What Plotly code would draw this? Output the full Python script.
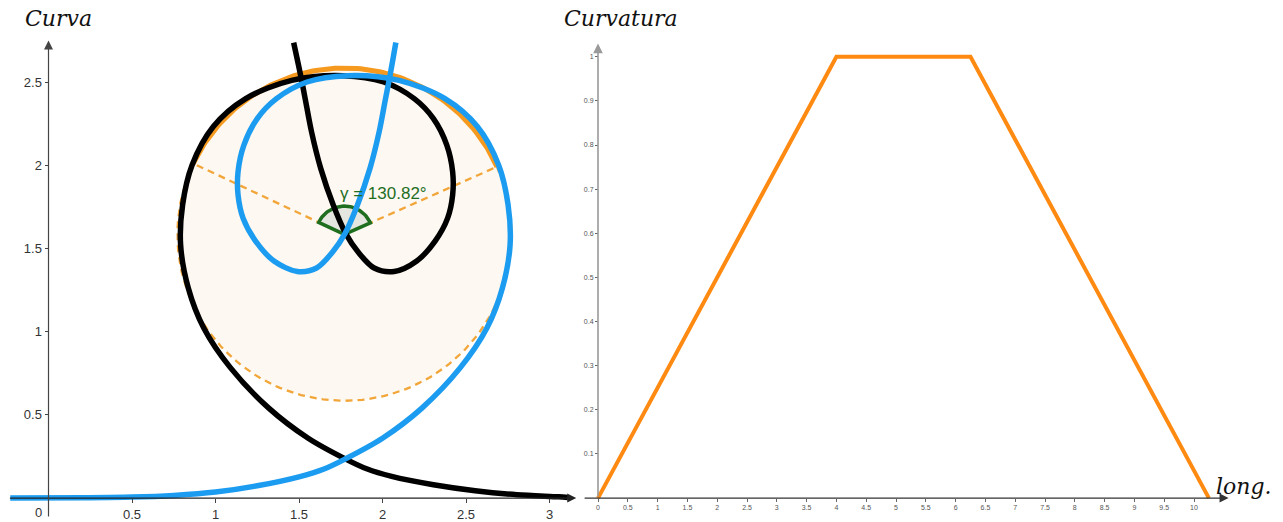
import numpy as np
import plotly.graph_objects as go

# ---------------- data ----------------
blue_x = [-0.229, 0.200, 0.500, 0.750, 1.000, 1.250, 1.500, 1.650, 1.778, 2.000, 2.236, 2.466,
          2.626, 2.718, 2.764, 2.752, 2.695, 2.569, 2.374, 2.099, 1.791, 1.548, 1.365, 1.250,
          1.170, 1.135, 1.135, 1.165, 1.240, 1.350, 1.490, 1.605, 1.700, 1.775, 1.850, 1.925,
          1.980, 2.018, 2.045, 2.080]
blue_y = [0.000, 0.002, 0.006, 0.016, 0.036, 0.074, 0.128, 0.175, 0.236, 0.360, 0.541, 0.784,
          1.024, 1.263, 1.523, 1.762, 2.002, 2.232, 2.401, 2.511, 2.539, 2.501, 2.401, 2.281,
          2.122, 1.962, 1.822, 1.683, 1.545, 1.425, 1.362, 1.383, 1.478, 1.590, 1.762, 1.982,
          2.202, 2.401, 2.540, 2.738]

black_x = [3.110, 3.055, 2.805, 2.555, 2.305, 2.055, 1.905, 1.777, 1.555, 1.319, 1.089, 0.929,
           0.837, 0.791, 0.803, 0.860, 0.986, 1.181, 1.456, 1.764, 2.007, 2.190, 2.305, 2.385,
           2.420, 2.420, 2.390, 2.315, 2.205, 2.070, 1.950, 1.855, 1.780, 1.705, 1.630, 1.575,
           1.537, 1.510, 1.468]
black_y = [0.004, 0.008, 0.020, 0.044, 0.080, 0.130, 0.176, 0.236, 0.360, 0.541, 0.784, 1.024,
           1.263, 1.523, 1.762, 2.002, 2.232, 2.401, 2.511, 2.539, 2.501, 2.401, 2.281, 2.122,
           1.962, 1.822, 1.683, 1.545, 1.425, 1.362, 1.383, 1.478, 1.590, 1.762, 1.982, 2.202,
           2.401, 2.540, 2.738]

# osculating circle and angle
circle_cx = 1.772
circle_cy = 1.585
circle_r = 1.0
angle_from_deg = 24.0
angle_to_deg = 154.8
gamma_label = "γ = 130.82°"

# curvature vs. length
curv_s = [0, 4, 6.25, 10.25]
curv_k = [0, 1, 1, 0]

left_xticks = [0.5, 1, 1.5, 2, 2.5, 3]
left_xlabels = ["0.5", "1", "1.5", "2", "2.5", "3"]
left_yticks = [0.5, 1, 1.5, 2, 2.5]
left_ylabels = ["0.5", "1", "1.5", "2", "2.5"]
right_xticks = [i * 0.5 for i in range(21)]
right_xlabels = ["0", "0.5", "1", "1.5", "2", "2.5", "3", "3.5", "4", "4.5", "5", "5.5",
                 "6", "6.5", "7", "7.5", "8", "8.5", "9", "9.5", "10"]
right_yticks = [0.1, 0.2, 0.3, 0.4, 0.5, 0.6, 0.7, 0.8, 0.9, 1]
right_ylabels = ["0.1", "0.2", "0.3", "0.4", "0.5", "0.6", "0.7", "0.8", "0.9", "1"]

# ---------------- figure ----------------
W, H = 1283, 522
BLUE = "#1C9CF0"
ORANGE = "#FF8A12"
ARC_ORANGE = "#F59A1E"
DASH_ORANGE = "#F2A63A"
GREEN = "#1F6E1F"


def px_x(p):
    return p / W


def px_y(p):
    return 1 - p / H


fig = go.Figure()


def arc(a0, a1, r, n=120):
    t = np.radians(np.linspace(a0, a1, n))
    return circle_cx + r * np.cos(t), circle_cy + r * np.sin(t)


# dashed major arc
ax_, ay_ = arc(angle_to_deg, 360 + angle_from_deg, circle_r)
fig.add_trace(go.Scatter(x=ax_, y=ay_, mode="lines",
                         line=dict(color=DASH_ORANGE, width=2.3, dash="7px,5px"),
                         hoverinfo="skip", showlegend=False, xaxis="x", yaxis="y"))
# solid minor arc
tx_, ty_ = arc(angle_from_deg, angle_to_deg, circle_r)
fig.add_trace(go.Scatter(x=tx_, y=ty_, mode="lines",
                         line=dict(color=ARC_ORANGE, width=5),
                         hoverinfo="skip", showlegend=False, xaxis="x", yaxis="y"))

# radii (dashed)
for a in (angle_from_deg, angle_to_deg):
    ex, ey = arc(a, a, circle_r, n=1)
    fig.add_trace(go.Scatter(x=[circle_cx, ex[0]], y=[circle_cy, ey[0]], mode="lines",
                             line=dict(color=DASH_ORANGE, width=2.3, dash="7px,5px"),
                             hoverinfo="skip", showlegend=False, xaxis="x", yaxis="y"))

# angle sector
sx, sy = arc(angle_from_deg, angle_to_deg, 0.17, n=40)
fig.add_trace(go.Scatter(x=[circle_cx] + list(sx) + [circle_cx],
                         y=[circle_cy] + list(sy) + [circle_cy], mode="lines",
                         fill="toself", fillcolor="rgba(205,212,205,0.5)",
                         line=dict(color=GREEN, width=3.5),
                         hoverinfo="skip", showlegend=False, xaxis="x", yaxis="y"))

# curves
fig.add_trace(go.Scatter(x=black_x, y=black_y, mode="lines",
                         line=dict(color="black", width=5.5, shape="spline", smoothing=0.9),
                         hoverinfo="skip", showlegend=False, xaxis="x", yaxis="y"))
fig.add_trace(go.Scatter(x=blue_x, y=blue_y, mode="lines",
                         line=dict(color=BLUE, width=5.5, shape="spline", smoothing=0.9),
                         hoverinfo="skip", showlegend=False, xaxis="x", yaxis="y"))

# curvature
fig.add_trace(go.Scatter(x=curv_s, y=curv_k, mode="lines",
                         line=dict(color=ORANGE, width=4),
                         hoverinfo="skip", showlegend=False, xaxis="x2", yaxis="y2"))

# disk
fig.add_shape(type="circle", xref="x", yref="y",
              x0=circle_cx - circle_r, x1=circle_cx + circle_r,
              y0=circle_cy - circle_r, y1=circle_cy + circle_r,
              fillcolor="#FDF8F1", line=dict(width=0), layer="below")


def axis_arrow(xref, yref, x0, y0, x1, y1, color, width, size=1.5):
    fig.add_annotation(x=x1, y=y1, ax=x0, ay=y0, xref=xref, yref=yref,
                       axref=xref, ayref=yref, text="", showarrow=True,
                       arrowhead=2, arrowsize=size, arrowwidth=width, arrowcolor=color)


axis_arrow("x", "y", -0.24, 0, 3.16, 0, "#222222", 1.2)
axis_arrow("x", "y", 0, -0.12, 0, 2.75, "#444444", 1.2)
axis_arrow("x2", "y2", -0.25, 0, 10.58, 0, "#333333", 1.2)
axis_arrow("x2", "y2", 0, 0, 0, 1.03, "#9a9a9a", 1.6, 1.2)

fig.add_annotation(x=0, y=0, xref="x", yref="y", text="0", showarrow=False,
                   xshift=-10, yshift=-14,
                   font=dict(family="Liberation Sans", size=13, color="#333333"))

fig.add_annotation(x=2.003, y=1.832, xref="x", yref="y", text=gamma_label, showarrow=False,
                   font=dict(family="Liberation Sans", size=17, color=GREEN))

# titles
title_font = dict(family="DejaVu Serif", size=22, color="#111111")
fig.add_annotation(x=px_x(58), y=px_y(19), xref="paper", yref="paper", text="<i>Curva</i>",
                   showarrow=False, font=title_font, xanchor="center", yanchor="middle")
fig.add_annotation(x=px_x(621), y=px_y(19), xref="paper", yref="paper", text="<i>Curvatura</i>",
                   showarrow=False, font=title_font, xanchor="center", yanchor="middle")
fig.add_annotation(x=px_x(1244), y=px_y(488), xref="paper", yref="paper", text="<i>long.</i>",
                   showarrow=False, font=title_font, xanchor="center", yanchor="middle")

tick_font_l = dict(family="Liberation Sans", size=13, color="#333333")
tick_font_r = dict(family="Liberation Sans", size=7, color="#555555")

# left panel: origin at pixel (48.5, 500), 167 px per unit
lx0, lx1 = 8, 580
ly0, ly1 = 30, 515
ppu = 167.0
fig.update_layout(
    width=W, height=H, margin=dict(l=0, r=0, t=0, b=0),
    paper_bgcolor="white", plot_bgcolor="rgba(0,0,0,0)",
    showlegend=False,
    xaxis=dict(domain=[px_x(lx0), px_x(lx1)],
               range=[(lx0 - 48.5) / ppu, (lx1 - 48.5) / ppu],
               anchor="free", position=px_y(500),
               showgrid=False, zeroline=False, showline=False,
               tickmode="array", tickvals=left_xticks, ticktext=left_xlabels,
               ticks="outside", ticklen=4, tickcolor="#444444", tickfont=tick_font_l),
    yaxis=dict(domain=[px_y(ly1), px_y(ly0)],
               range=[(500 - ly1) / ppu, (500 - ly0) / ppu],
               anchor="free", position=px_x(48.5),
               showgrid=False, zeroline=False, showline=False,
               tickmode="array", tickvals=left_yticks, ticktext=left_ylabels,
               ticks="outside", ticklen=4, tickcolor="#444444", tickfont=tick_font_l),
)

# right panel: origin at pixel (598, 500), 59.6 px per unit in x, 443 px per unit in y
rx0, rx1 = 583, 1232
ry0, ry1 = 40, 515
ppx, ppy = 59.6, 443.0
fig.update_layout(
    xaxis2=dict(domain=[px_x(rx0), px_x(rx1)],
                range=[(rx0 - 598) / ppx, (rx1 - 598) / ppx],
                anchor="free", position=px_y(500),
                showgrid=False, zeroline=False, showline=False,
                tickmode="array", tickvals=right_xticks, ticktext=right_xlabels,
                ticks="outside", ticklen=3, tickcolor="#666666", tickfont=tick_font_r),
    yaxis2=dict(domain=[px_y(ry1), px_y(ry0)],
                range=[(500 - ry1) / ppy, (500 - ry0) / ppy],
                anchor="free", position=px_x(598),
                showgrid=False, zeroline=False, showline=False,
                tickmode="array", tickvals=right_yticks, ticktext=right_ylabels,
                ticks="outside", ticklen=3, tickcolor="#666666", tickfont=tick_font_r),
)

fig.write_html("out.html", config={"displayModeBar": False},
               post_script="document.body.style.margin='0';document.body.style.overflow='hidden';")
